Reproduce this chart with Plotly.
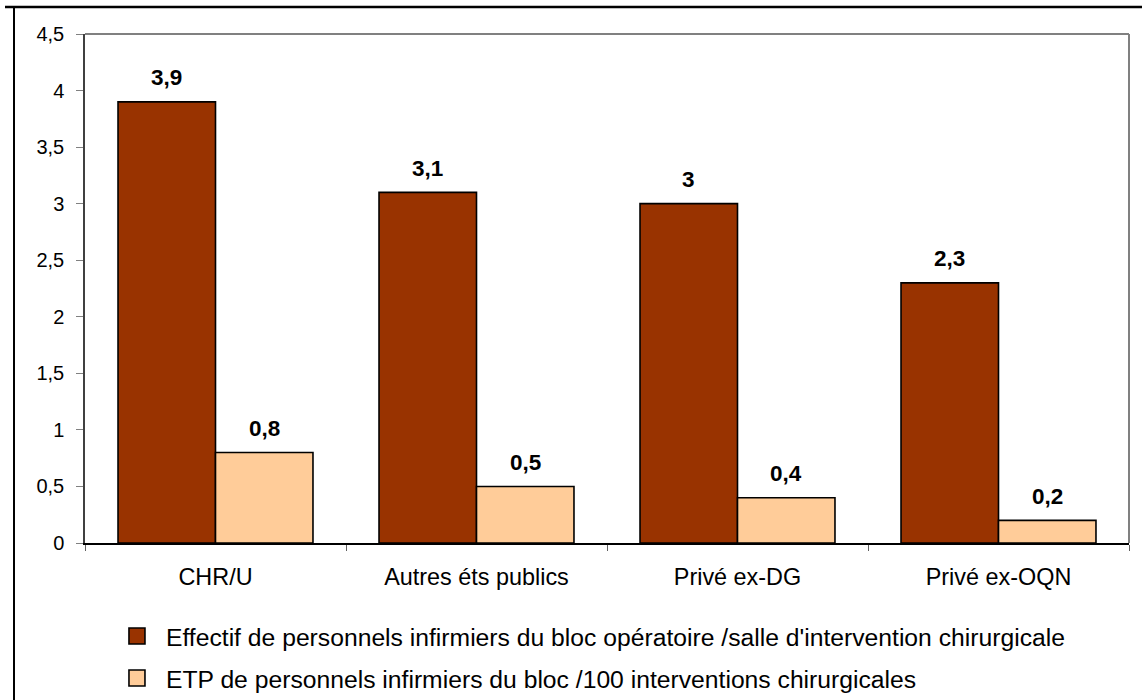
import plotly.graph_objects as go

categories = ["CHR/U", "Autres éts publics", "Privé ex-DG", "Privé ex-OQN"]
series_names = [
    "Effectif de personnels infirmiers du bloc opératoire /salle d'intervention chirurgicale",
    "ETP de personnels infirmiers du bloc /100 interventions chirurgicales",
]
effectif = [3.9, 3.1, 3.0, 2.3]
etp = [0.8, 0.5, 0.4, 0.2]
y_ticks = [0, 0.5, 1, 1.5, 2, 2.5, 3, 3.5, 4, 4.5]

colors = ["#993300", "#FFCC99"]
FONT = "Liberation Sans, Arial, sans-serif"
W, H = 1142, 700
ML, MR, MT, MB = 85, 13, 34, 157
BARGAP = 0.253

fig = go.Figure()
for name, vals, col in zip(series_names, [effectif, etp], colors):
    fig.add_trace(go.Bar(
        x=categories, y=vals, name=name, showlegend=False,
        marker=dict(color=col, line=dict(color="black", width=1.6)),
    ))
# legend proxies (larger square symbols)
for i, (name, col) in enumerate(zip(series_names, colors)):
    fig.add_trace(go.Scatter(
        x=[None], y=[None], mode="markers", name=name, legendgroup=f"g{i}",
        marker=dict(symbol="square", size=16, color=col, line=dict(color="black", width=1.6)),
    ))

# data labels
half = (1 - BARGAP) / 2
annotations = []
for s, vals in enumerate([effectif, etp]):
    off = -half / 2 if s == 0 else half / 2
    for i, v in enumerate(vals):
        annotations.append(dict(
            x=i + off, y=v, xref="x", yref="y", text=f"{v:g}".replace(".", ","),
            showarrow=False, yanchor="middle", yshift=24,
            font=dict(family=FONT, size=22.5, color="black", weight="bold"),
        ))

shapes = [
    # plot area gray frame (top/right)
    dict(type="line", xref="paper", yref="paper", x0=0, x1=1, y0=1, y1=1,
         line=dict(color="#808080", width=2)),
    dict(type="line", xref="paper", yref="paper", x0=1, x1=1, y0=0, y1=1,
         line=dict(color="#808080", width=2)),
]
pw = W - ML - MR
ph = H - MT - MB
def px_x(p):
    return (p - ML) / pw
def px_y(p):
    return (H - MB - p) / ph
shapes += [
    dict(type="line", xref="paper", yref="paper", x0=px_x(5), x1=px_x(1145), y0=px_y(7), y1=px_y(7),
         line=dict(color="black", width=2.5)),
    dict(type="line", xref="paper", yref="paper", x0=px_x(14), x1=px_x(14), y0=px_y(6), y1=px_y(705),
         line=dict(color="black", width=2)),
]

fig.update_layout(
    width=W, height=H,
    margin=dict(l=ML, r=MR, t=MT, b=MB, autoexpand=False),
    paper_bgcolor="white", plot_bgcolor="white",
    barmode="group", bargap=BARGAP, bargroupgap=0,
    separators=", ",
    font=dict(family=FONT, size=22, color="black"),
    showlegend=True,
    legend=dict(
        x=0.022, y=-0.1383, xanchor="left", yanchor="top",
        font=dict(family=FONT, size=24.7, color="black"),
        itemwidth=48, tracegroupgap=7, bgcolor="rgba(0,0,0,0)",
    ),
    annotations=annotations,
    shapes=shapes,
)
fig.update_xaxes(
    type="category", showline=True, linecolor="black", linewidth=1.5,
    ticks="outside", tickson="boundaries", ticklen=6, tickcolor="#606060",
    tickfont=dict(family=FONT, size=23.4), showgrid=False, ticklabelstandoff=12,
)
fig.update_yaxes(
    range=[0, 4.5], tickvals=y_ticks, showline=True, linecolor="#404040", linewidth=1.5,
    ticks="outside", ticklen=7, tickcolor="#808080", showgrid=False, zeroline=False,
    tickfont=dict(family=FONT, size=20), ticklabelstandoff=8,
)

fig.write_html("out.html", config={"displayModeBar": False},
               post_script="document.body.style.margin='0px';")
